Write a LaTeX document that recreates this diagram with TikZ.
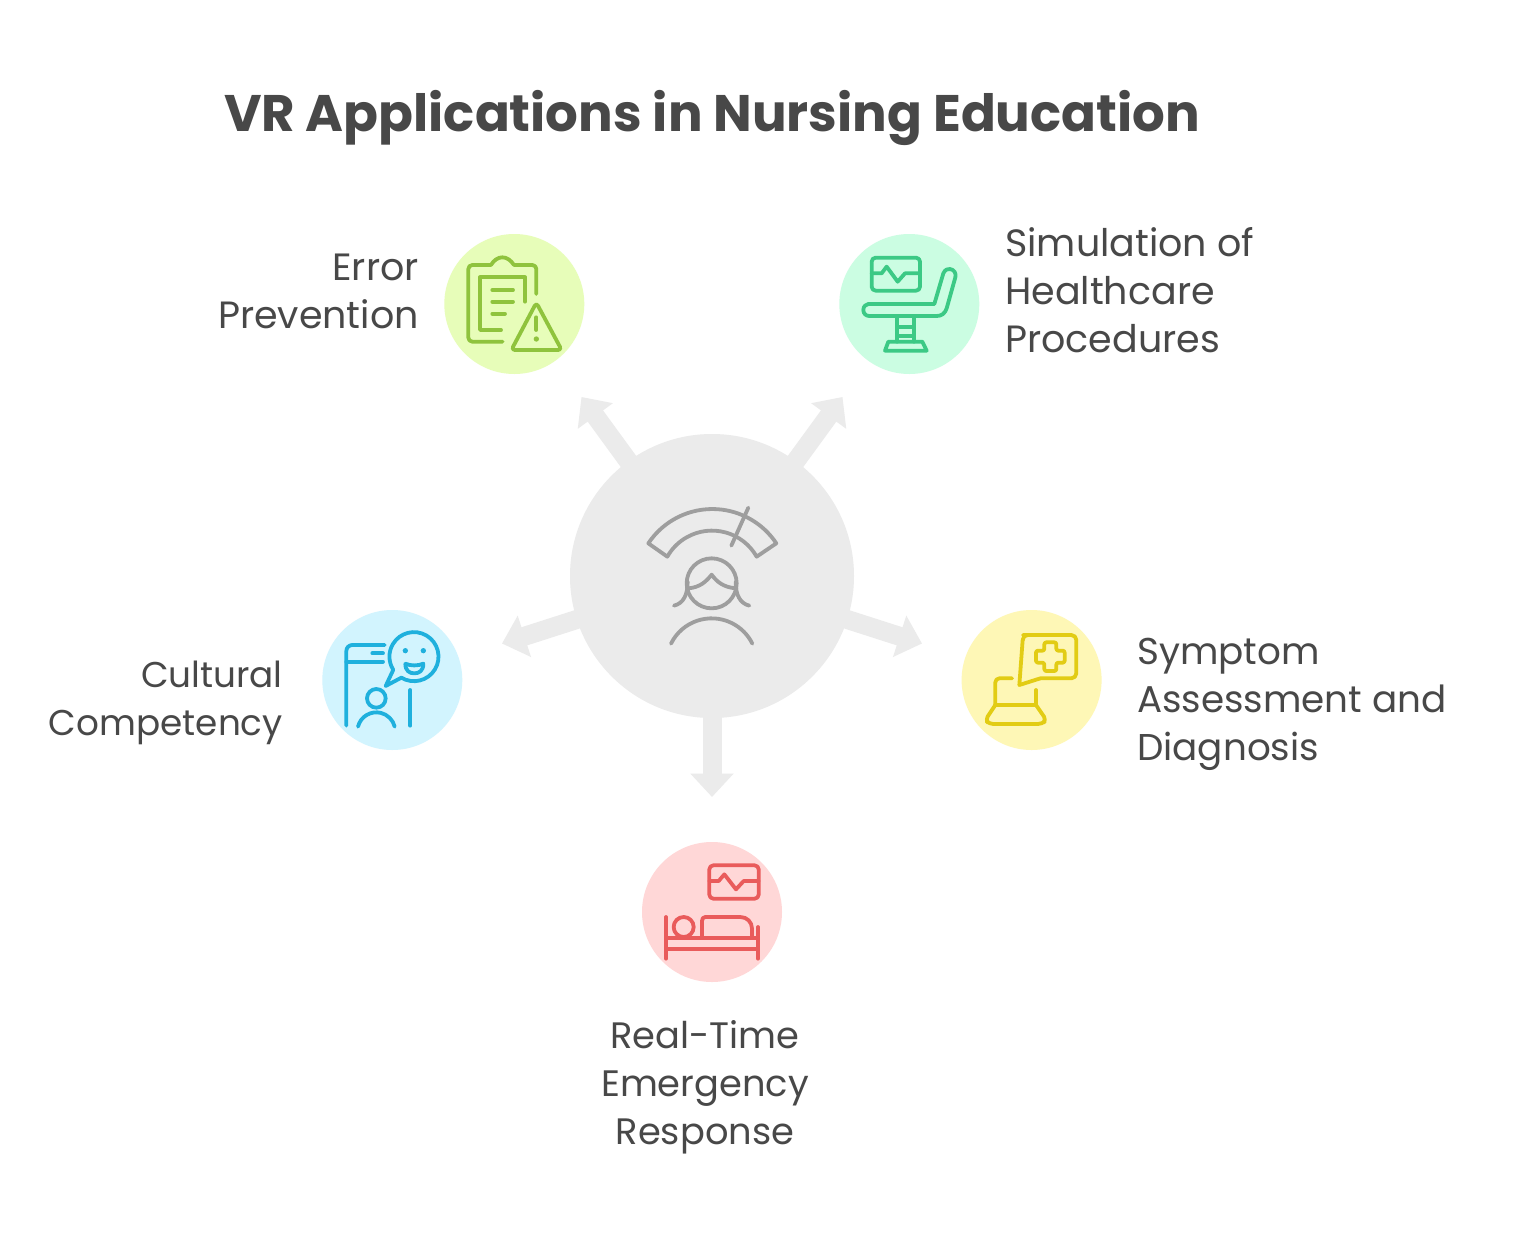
\documentclass[tikz,border=0pt]{standalone}
\usepackage{fontspec}
\setmainfont{Poppins}
\usetikzlibrary{arrows.meta}
\definecolor{hubfill}{HTML}{EBEBEB}
\definecolor{hubline}{HTML}{9E9E9E}
\definecolor{txt}{HTML}{484848}
\definecolor{gfill}{HTML}{E7FDB9}\definecolor{gline}{HTML}{8FC33D}
\definecolor{mfill}{HTML}{CBFDE2}\definecolor{mline}{HTML}{3CC985}
\definecolor{bfill}{HTML}{D2F4FE}\definecolor{bline}{HTML}{1FB0DD}
\definecolor{yfill}{HTML}{FEF7B6}\definecolor{yline}{HTML}{E2CC14}
\definecolor{rfill}{HTML}{FFD7D7}\definecolor{rline}{HTML}{E95B5B}
\tikzset{
  hubdisc/.style={circle,fill=hubfill,minimum size=284pt,inner sep=0pt},
  disc/.style={circle,minimum size=140pt,inner sep=0pt},
  fatarrow/.style={draw=hubfill,line width=19pt,-{Triangle[width=42pt,length=23.5pt]}},
  ic/.style={line width=3.8pt,line cap=round,line join=round},
  lab/.style={text=txt,font=\fontsize{#1}{48}\selectfont,inner sep=0pt},
  ttl/.style={text=txt,font=\bfseries\fontsize{51.4}{60}\selectfont,inner sep=0pt},
}
\begin{document}
\begin{tikzpicture}[x=1pt,y=-1pt]
\useasboundingbox (0,0) rectangle (1516,1248);
\fill[white] (0,0) rectangle (1516,1248);

\node[ttl] (title) at (712,118) {VR Applications in Nursing Education};

\node[hubdisc] (hub) at (712,576) {};
\coordinate (tipA) at (581.5,397);
\coordinate (tipB) at (842.5,397);
\coordinate (tipC) at (502,643.5);
\coordinate (tipD) at (922,643.5);
\coordinate (tipE) at (712,797);
\foreach \t in {tipA,tipB,tipC,tipD,tipE} \draw[fatarrow] (hub.center) -- (\t);

\node[disc,fill=gfill] (err) at (514.3,304) {};
\node[disc,fill=mfill] (sim) at (909.3,304) {};
\node[disc,fill=bfill] (cul) at (392.3,680) {};
\node[disc,fill=yfill] (sym) at (1031.6,680) {};
\node[disc,fill=rfill] (eme) at (712,912) {};

\node[lab=38,align=right,anchor=east] (lerr) at (419,291) {Error\\Prevention};
\node[lab=38,align=left,anchor=west] (lsim) at (1005,290) {Simulation of\\Healthcare\\Procedures};
\node[lab=35.8,align=right,anchor=east] (lcul) at (283,703) {Cultural\\Competency};
\node[lab=37.3,align=left,anchor=west] (lsym) at (1137,704) {Symptom\\Assessment and\\Diagnosis};
\node[lab=36.8,align=center] (leme) at (705,1087) {Real-Time\\Emergency\\Response};

% hub icon
\begin{scope}[shift={(620,490)},scale=1/3,ic,draw=hubline]
\draw (85,160) arc (-146.4:-33.6:230.5) -- (410,200) arc (-29.5:-150.5:154) -- cycle;
\draw (334,167) -- (385,53);
\draw (275,280) circle (75);
\draw (205,295) .. controls (240,292) and (258,275) .. (275,254) .. controls (290,275) and (310,292) .. (348,295);
\draw (162,347) .. controls (190,340) and (203,315) .. (203,275);
\draw (388,347) .. controls (360,340) and (347,315) .. (347,275);
\draw (153,461) arc (-153.8:-26.2:136);
\end{scope}

% error prevention
\begin{scope}[shift={(440,230)},scale=1/3,ic,draw=gline]
\draw[rounded corners=4pt] (289,192) -- (289,105) -- (222,105);
\draw (222,105) .. controls (212,90) and (200,82) .. (187,82) .. controls (174,82) and (162,90) .. (153,105);
\draw[rounded corners=4pt] (153,105) -- (85,105) -- (85,335) -- (188,335);
\draw (255,215) -- (255,142) -- (120,142) -- (120,300) -- (183,300);
\draw (157,180) -- (219,180) (157,215) -- (219,215) (157,251) -- (195,251);
\draw[rounded corners=3.5pt] (289,218) -- (365,360) -- (214,360) -- cycle;
\draw (289,262) -- (289,300);
\fill[gline] (289,327) circle (8);
\end{scope}

% simulation
\begin{scope}[shift={(835,230)},scale=1/3,ic,draw=mline]
\draw[rounded corners=4pt] (110,83) rectangle (255,182);
\draw (110,130) -- (140,130) -- (155,110) -- (188,155) -- (210,130) -- (255,130);
\draw (100,222) -- (298,222) -- (325,130) .. controls (330,118) and (340,116) .. (345,117) .. controls (358,119) and (364,130) .. (361,142) -- (335,235) .. controls (330,250) and (320,258) .. (305,258) -- (103,258) .. controls (92,258) and (85,250) .. (85,240) .. controls (85,230) and (92,222) .. (100,222) -- cycle;
\draw (187,258) -- (187,335) (237,258) -- (237,335) (187,290) -- (237,290) (187,318) -- (237,318);
\draw (160,335) -- (262,335) -- (275,362) -- (150,362) -- cycle;
\end{scope}

% cultural
\begin{scope}[shift={(318,605)},scale=1/3,ic,draw=bline]
\draw[rounded corners=6pt] (85,362) -- (85,120) -- (200,120);
\draw (85,170) -- (195,170) (163,145) -- (195,145) (277,255) -- (277,362);
\draw (175,280) circle (28);
\draw (120,365) arc (-166:-14:56.7);
\draw (250,218) arc (121:-212.5:73.6) -- (203,243) -- cycle;
\fill[bline] (262,137) circle (8) (316,137) circle (8);
\draw (262,176) .. controls (262,198) and (275,205) .. (289,205) .. controls (303,205) and (316,198) .. (316,176) .. controls (300,183) and (278,183) .. cycle;
\end{scope}

% symptom
\begin{scope}[shift={(957,605)},scale=1/3,ic,draw=yline]
\draw[rounded corners=5pt] (198,90) -- (358,90) -- (358,220) -- (250,220);
\draw (250,220) -- (187,240) -- (197,105);
\draw (197,105) .. controls (198,96) and (203,90) .. (212,90);
\draw[rounded corners=2pt] (262,112) -- (298,112) -- (298,137) -- (323,137) -- (323,173) -- (298,173) -- (298,198) -- (262,198) -- (262,173) -- (237,173) -- (237,137) -- (262,137) -- cycle;
\draw[rounded corners=4pt] (165,220) -- (115,220) -- (115,300);
\draw (237,255) -- (237,300) (115,300) -- (237,300);
\draw[rounded corners=4pt] (115,300) -- (85,345) -- (97,357) -- (255,357) -- (268,345) -- (237,300);
\end{scope}

% emergency
\begin{scope}[shift={(637,837)},scale=1/3,ic,draw=rline]
\draw[rounded corners=4pt] (217,85) rectangle (365,185);
\draw (217,132) -- (245,132) -- (262,112) -- (297,157) -- (320,132) -- (365,132);
\draw (87,240) -- (87,365) (363,270) -- (363,365);
\draw (87,302) -- (363,302) (87,337) -- (363,337);
\draw (140,270) circle (30);
\draw (195,302) -- (195,252) .. controls (195,245) and (198,240) .. (205,240) -- (310,240) .. controls (330,240) and (345,255) .. (345,275) -- (345,302);
\end{scope}
\end{tikzpicture}
\end{document}
